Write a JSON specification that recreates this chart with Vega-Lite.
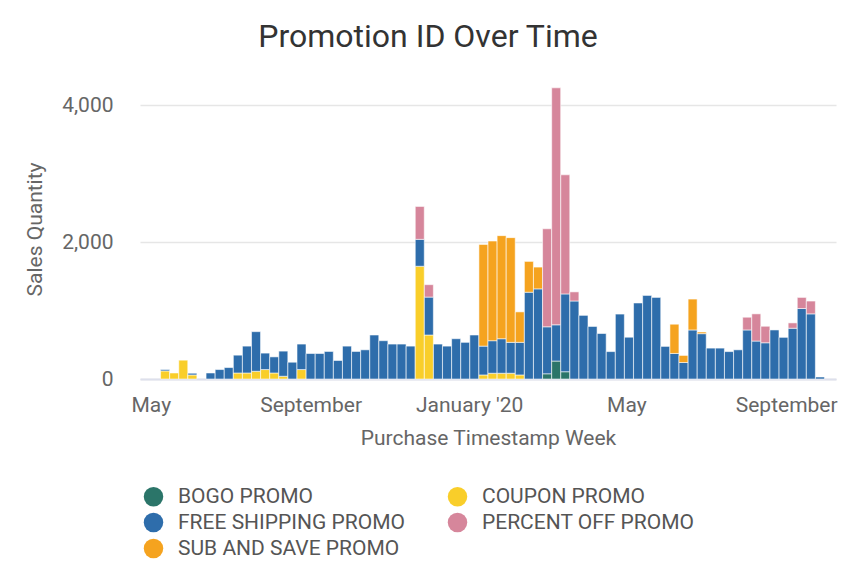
{
  "$schema": "https://vega.github.io/schema/vega-lite/v6.json",
  "autosize": "none",
  "width": 696,
  "height": 300,
  "padding": {"left": 140, "top": 79, "right": 32, "bottom": 193},
  "background": "white",
  "config": {
    "font": "Roboto",
    "view": {"stroke": null},
    "axis": {"labelFont": "Roboto", "titleFont": "Roboto", "labelColor": "#666666", "titleColor": "#666666", "labelFontSize": 21, "titleFontSize": 21, "titleFontWeight": "normal", "ticks": false}
  },
  "title": {"text": "Promotion ID Over Time", "font": "Roboto", "fontSize": 32, "fontWeight": "normal", "color": "#333333", "anchor": "middle", "frame": "group", "dx": -60, "offset": 25},
  "data": {"values": [
    {"week": "2019-05-12", "promo": "COUPON PROMO", "qty": 118},
    {"week": "2019-05-12", "promo": "FREE SHIPPING PROMO", "qty": 20},
    {"week": "2019-05-19", "promo": "COUPON PROMO", "qty": 88},
    {"week": "2019-05-26", "promo": "COUPON PROMO", "qty": 275},
    {"week": "2019-06-02", "promo": "COUPON PROMO", "qty": 59},
    {"week": "2019-06-02", "promo": "FREE SHIPPING PROMO", "qty": 25},
    {"week": "2019-06-16", "promo": "FREE SHIPPING PROMO", "qty": 88},
    {"week": "2019-06-23", "promo": "FREE SHIPPING PROMO", "qty": 138},
    {"week": "2019-06-30", "promo": "FREE SHIPPING PROMO", "qty": 167},
    {"week": "2019-07-07", "promo": "COUPON PROMO", "qty": 88},
    {"week": "2019-07-07", "promo": "FREE SHIPPING PROMO", "qty": 260},
    {"week": "2019-07-14", "promo": "COUPON PROMO", "qty": 88},
    {"week": "2019-07-14", "promo": "FREE SHIPPING PROMO", "qty": 392},
    {"week": "2019-07-21", "promo": "COUPON PROMO", "qty": 113},
    {"week": "2019-07-21", "promo": "FREE SHIPPING PROMO", "qty": 578},
    {"week": "2019-07-28", "promo": "COUPON PROMO", "qty": 138},
    {"week": "2019-07-28", "promo": "FREE SHIPPING PROMO", "qty": 240},
    {"week": "2019-08-04", "promo": "COUPON PROMO", "qty": 88},
    {"week": "2019-08-04", "promo": "FREE SHIPPING PROMO", "qty": 235},
    {"week": "2019-08-11", "promo": "COUPON PROMO", "qty": 40},
    {"week": "2019-08-11", "promo": "FREE SHIPPING PROMO", "qty": 367},
    {"week": "2019-08-18", "promo": "FREE SHIPPING PROMO", "qty": 245},
    {"week": "2019-08-25", "promo": "COUPON PROMO", "qty": 138},
    {"week": "2019-08-25", "promo": "FREE SHIPPING PROMO", "qty": 372},
    {"week": "2019-09-01", "promo": "FREE SHIPPING PROMO", "qty": 372},
    {"week": "2019-09-08", "promo": "FREE SHIPPING PROMO", "qty": 372},
    {"week": "2019-09-15", "promo": "FREE SHIPPING PROMO", "qty": 402},
    {"week": "2019-09-22", "promo": "FREE SHIPPING PROMO", "qty": 270},
    {"week": "2019-09-29", "promo": "FREE SHIPPING PROMO", "qty": 480},
    {"week": "2019-10-06", "promo": "FREE SHIPPING PROMO", "qty": 402},
    {"week": "2019-10-13", "promo": "FREE SHIPPING PROMO", "qty": 426},
    {"week": "2019-10-20", "promo": "FREE SHIPPING PROMO", "qty": 642},
    {"week": "2019-10-27", "promo": "FREE SHIPPING PROMO", "qty": 559},
    {"week": "2019-11-03", "promo": "FREE SHIPPING PROMO", "qty": 510},
    {"week": "2019-11-10", "promo": "FREE SHIPPING PROMO", "qty": 510},
    {"week": "2019-11-17", "promo": "FREE SHIPPING PROMO", "qty": 480},
    {"week": "2019-11-24", "promo": "COUPON PROMO", "qty": 1646},
    {"week": "2019-11-24", "promo": "FREE SHIPPING PROMO", "qty": 393},
    {"week": "2019-11-24", "promo": "PERCENT OFF PROMO", "qty": 480},
    {"week": "2019-12-01", "promo": "COUPON PROMO", "qty": 642},
    {"week": "2019-12-01", "promo": "FREE SHIPPING PROMO", "qty": 554},
    {"week": "2019-12-01", "promo": "PERCENT OFF PROMO", "qty": 181},
    {"week": "2019-12-08", "promo": "FREE SHIPPING PROMO", "qty": 510},
    {"week": "2019-12-15", "promo": "FREE SHIPPING PROMO", "qty": 480},
    {"week": "2019-12-22", "promo": "FREE SHIPPING PROMO", "qty": 588},
    {"week": "2019-12-29", "promo": "FREE SHIPPING PROMO", "qty": 535},
    {"week": "2020-01-05", "promo": "FREE SHIPPING PROMO", "qty": 642},
    {"week": "2020-01-12", "promo": "COUPON PROMO", "qty": 59},
    {"week": "2020-01-12", "promo": "FREE SHIPPING PROMO", "qty": 421},
    {"week": "2020-01-12", "promo": "SUB AND SAVE PROMO", "qty": 1485},
    {"week": "2020-01-19", "promo": "COUPON PROMO", "qty": 84},
    {"week": "2020-01-19", "promo": "FREE SHIPPING PROMO", "qty": 475},
    {"week": "2020-01-19", "promo": "SUB AND SAVE PROMO", "qty": 1455},
    {"week": "2020-01-26", "promo": "COUPON PROMO", "qty": 84},
    {"week": "2020-01-26", "promo": "FREE SHIPPING PROMO", "qty": 504},
    {"week": "2020-01-26", "promo": "SUB AND SAVE PROMO", "qty": 1505},
    {"week": "2020-02-02", "promo": "COUPON PROMO", "qty": 84},
    {"week": "2020-02-02", "promo": "FREE SHIPPING PROMO", "qty": 451},
    {"week": "2020-02-02", "promo": "SUB AND SAVE PROMO", "qty": 1529},
    {"week": "2020-02-09", "promo": "COUPON PROMO", "qty": 59},
    {"week": "2020-02-09", "promo": "FREE SHIPPING PROMO", "qty": 476},
    {"week": "2020-02-09", "promo": "SUB AND SAVE PROMO", "qty": 445},
    {"week": "2020-02-16", "promo": "FREE SHIPPING PROMO", "qty": 1267},
    {"week": "2020-02-16", "promo": "SUB AND SAVE PROMO", "qty": 450},
    {"week": "2020-02-23", "promo": "FREE SHIPPING PROMO", "qty": 1316},
    {"week": "2020-02-23", "promo": "SUB AND SAVE PROMO", "qty": 318},
    {"week": "2020-03-01", "promo": "BOGO PROMO", "qty": 76},
    {"week": "2020-03-01", "promo": "FREE SHIPPING PROMO", "qty": 686},
    {"week": "2020-03-01", "promo": "PERCENT OFF PROMO", "qty": 1431},
    {"week": "2020-03-08", "promo": "BOGO PROMO", "qty": 262},
    {"week": "2020-03-08", "promo": "FREE SHIPPING PROMO", "qty": 529},
    {"week": "2020-03-08", "promo": "PERCENT OFF PROMO", "qty": 3460},
    {"week": "2020-03-15", "promo": "BOGO PROMO", "qty": 106},
    {"week": "2020-03-15", "promo": "FREE SHIPPING PROMO", "qty": 1136},
    {"week": "2020-03-15", "promo": "PERCENT OFF PROMO", "qty": 1739},
    {"week": "2020-03-22", "promo": "FREE SHIPPING PROMO", "qty": 1139},
    {"week": "2020-03-22", "promo": "PERCENT OFF PROMO", "qty": 133},
    {"week": "2020-03-29", "promo": "FREE SHIPPING PROMO", "qty": 929},
    {"week": "2020-04-05", "promo": "FREE SHIPPING PROMO", "qty": 767},
    {"week": "2020-04-12", "promo": "FREE SHIPPING PROMO", "qty": 664},
    {"week": "2020-04-19", "promo": "FREE SHIPPING PROMO", "qty": 400},
    {"week": "2020-04-26", "promo": "FREE SHIPPING PROMO", "qty": 948},
    {"week": "2020-05-03", "promo": "FREE SHIPPING PROMO", "qty": 610},
    {"week": "2020-05-10", "promo": "FREE SHIPPING PROMO", "qty": 1110},
    {"week": "2020-05-17", "promo": "FREE SHIPPING PROMO", "qty": 1220},
    {"week": "2020-05-24", "promo": "FREE SHIPPING PROMO", "qty": 1191},
    {"week": "2020-05-31", "promo": "FREE SHIPPING PROMO", "qty": 476},
    {"week": "2020-06-07", "promo": "FREE SHIPPING PROMO", "qty": 373},
    {"week": "2020-06-07", "promo": "SUB AND SAVE PROMO", "qty": 427},
    {"week": "2020-06-14", "promo": "FREE SHIPPING PROMO", "qty": 241},
    {"week": "2020-06-14", "promo": "SUB AND SAVE PROMO", "qty": 103},
    {"week": "2020-06-21", "promo": "FREE SHIPPING PROMO", "qty": 716},
    {"week": "2020-06-21", "promo": "SUB AND SAVE PROMO", "qty": 451},
    {"week": "2020-06-28", "promo": "FREE SHIPPING PROMO", "qty": 662},
    {"week": "2020-06-28", "promo": "SUB AND SAVE PROMO", "qty": 24},
    {"week": "2020-07-05", "promo": "FREE SHIPPING PROMO", "qty": 451},
    {"week": "2020-07-12", "promo": "FREE SHIPPING PROMO", "qty": 451},
    {"week": "2020-07-19", "promo": "FREE SHIPPING PROMO", "qty": 400},
    {"week": "2020-07-26", "promo": "FREE SHIPPING PROMO", "qty": 426},
    {"week": "2020-08-02", "promo": "FREE SHIPPING PROMO", "qty": 716},
    {"week": "2020-08-02", "promo": "PERCENT OFF PROMO", "qty": 186},
    {"week": "2020-08-09", "promo": "FREE SHIPPING PROMO", "qty": 554},
    {"week": "2020-08-09", "promo": "PERCENT OFF PROMO", "qty": 397},
    {"week": "2020-08-16", "promo": "FREE SHIPPING PROMO", "qty": 529},
    {"week": "2020-08-16", "promo": "PERCENT OFF PROMO", "qty": 241},
    {"week": "2020-08-23", "promo": "FREE SHIPPING PROMO", "qty": 716},
    {"week": "2020-08-30", "promo": "FREE SHIPPING PROMO", "qty": 608},
    {"week": "2020-09-06", "promo": "FREE SHIPPING PROMO", "qty": 741},
    {"week": "2020-09-06", "promo": "PERCENT OFF PROMO", "qty": 78},
    {"week": "2020-09-13", "promo": "FREE SHIPPING PROMO", "qty": 1029},
    {"week": "2020-09-13", "promo": "PERCENT OFF PROMO", "qty": 162},
    {"week": "2020-09-20", "promo": "FREE SHIPPING PROMO", "qty": 951},
    {"week": "2020-09-20", "promo": "PERCENT OFF PROMO", "qty": 187},
    {"week": "2020-09-27", "promo": "FREE SHIPPING PROMO", "qty": 29}
  ]},
  "mark": {"type": "bar", "width": 9, "stroke": "#ffffff", "strokeWidth": 1, "strokeOpacity": 0.55},
  "encoding": {
    "x": {
      "field": "week", "type": "temporal",
      "scale": {"type": "utc", "domain": [{"year": 2019, "month": 4, "date": 26, "hours": 13, "utc": true}, {"year": 2020, "month": 10, "date": 5, "hours": 12, "utc": true}], "nice": false},
      "axis": {
        "title": "Purchase Timestamp Week",
        "values": [{"year": 2019, "month": 5, "date": 1, "utc": true}, {"year": 2019, "month": 9, "date": 1, "utc": true}, {"year": 2020, "month": 1, "date": 1, "utc": true}, {"year": 2020, "month": 5, "date": 1, "utc": true}, {"year": 2020, "month": 9, "date": 1, "utc": true}],
        "labelExpr": "utcmonth(datum.value) === 0 ? utcFormat(datum.value, '%B') + \" '\" + utcFormat(datum.value, '%y') : utcFormat(datum.value, '%B')",
        "grid": false, "domain": true, "domainColor": "#dde0ec", "domainWidth": 2,
        "labelPadding": 15, "titlePadding": 12, "labelFlush": false, "labelOverlap": false
      }
    },
    "y": {
      "field": "qty", "type": "quantitative", "aggregate": "sum", "stack": "zero",
      "scale": {"domain": [0, 4380], "nice": false},
      "axis": {"title": "Sales Quantity", "values": [0, 2000, 4000], "format": ",.0f", "domain": false, "grid": true, "gridColor": "#e6e6e6", "gridWidth": 1.5, "labelPadding": 27, "titlePadding": 16}
    },
    "color": {
      "field": "promo", "type": "nominal",
      "scale": {"domain": ["BOGO PROMO", "COUPON PROMO", "FREE SHIPPING PROMO", "PERCENT OFF PROMO", "SUB AND SAVE PROMO"], "range": ["#2B7569", "#F9CE2A", "#2E6DAB", "#D6869B", "#F5A31F"]},
      "legend": {"title": null, "orient": "none", "legendX": 3, "legendY": 407, "direction": "horizontal", "columns": 2, "symbolType": "circle", "symbolSize": 380, "symbolStrokeWidth": 0, "labelFont": "Roboto", "labelFontSize": 21, "labelColor": "#555555", "labelOffset": 14, "rowPadding": 4, "columnPadding": 42, "padding": 0, "labelLimit": 400}
    },
    "order": {"field": "promo", "sort": "ascending"}
  }
}
